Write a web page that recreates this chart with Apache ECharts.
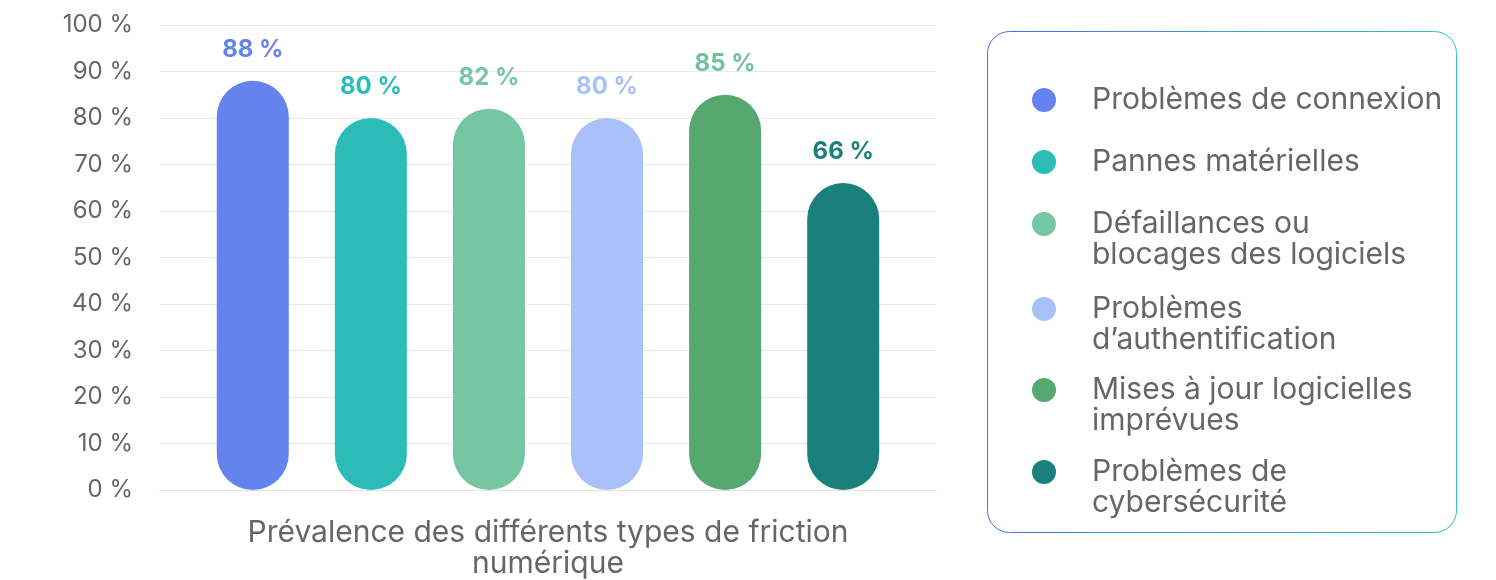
<!DOCTYPE html>
<html>
<head>
<meta charset="utf-8">
<script src="https://cdn.jsdelivr.net/npm/echarts@6/dist/echarts.min.js"></script>
<style>html,body{margin:0;padding:0;background:#fff}#c{width:1496px;height:580px}</style>
</head>
<body>
<div id="c"></div>
<script>
const categories = ['Prévalence des différents types de friction\nnumérique'];
const seriesNames = ['Problèmes de connexion', 'Pannes matérielles', 'Défaillances ou blocages des logiciels', 'Problèmes d’authentification', 'Mises à jour logicielles imprévues', 'Problèmes de cybersécurité'];
const legendLabels = ['Problèmes de connexion', 'Pannes matérielles', 'Défaillances ou\nblocages des logiciels', 'Problèmes\nd’authentification', 'Mises à jour logicielles\nimprévues', 'Problèmes de\ncybersécurité'];
const values = [88, 80, 82, 80, 85, 66];
const barColors = ['#6583EE', '#2BBCB8', '#74C7A2', '#A9C1F9', '#57A771', '#1A807B'];
const labelColors = ['#6583EE', '#2BBCB8', '#74C7A2', '#A9C1F9', '#6DC39B', '#1A807B'];
const yTicks = { min: 0, max: 100, interval: 10 };

const chart = echarts.init(document.getElementById('c'), null, { renderer: 'canvas' });
const FONT = 'Inter, sans-serif';

const series = seriesNames.map((n, i) => ({
  name: n,
  type: 'bar',
  data: [values[i]],
  barWidth: 72,
  barGap: '64%',
  itemStyle: { color: barColors[i], borderRadius: 36 },
  label: {
    show: true, position: 'top', distance: 19,
    formatter: '{c}\u00A0%',
    color: labelColors[i], fontFamily: FONT, fontWeight: 'bold', fontSize: 24
  }
}));

// legend drawn as graphic items
const legendTop = [100, 162, 224, 309, 390, 472];
const graphics = [{
  type: 'rect', shape: { x: 987.5, y: 31.5, width: 469, height: 501, r: 22 },
  style: {
    fill: 'none', lineWidth: 1,
    stroke: new echarts.graphic.LinearGradient(0, 0, 1, 0, [
      { offset: 0, color: '#4A6CF0' }, { offset: 1, color: '#2EC6BE' }
    ])
  }, z: 10
}];
legendLabels.forEach((t, i) => {
  graphics.push({ type: 'circle', shape: { cx: 1044, cy: legendTop[i], r: 12 }, style: { fill: barColors[i] }, z: 10 });
  graphics.push({
    type: 'text', x: 1092, y: legendTop[i] - 15.5, z: 10,
    style: { text: t, fill: '#666666', font: '30px Inter, sans-serif', lineHeight: 31, verticalAlign: 'top', align: 'left' }
  });
});

chart.setOption({
  animation: false,
  grid: { left: 160, right: 560, top: 25, bottom: 90, containLabel: false },
  xAxis: {
    type: 'category', data: categories,
    axisLine: { show: true, lineStyle: { color: '#E3E3E3' } },
    axisTick: { show: false },
    axisLabel: { color: '#666666', fontFamily: FONT, fontSize: 30, lineHeight: 31, margin: 27 }
  },
  yAxis: {
    type: 'value', min: yTicks.min, max: yTicks.max, interval: yTicks.interval,
    axisLine: { show: false }, axisTick: { show: false },
    splitLine: { lineStyle: { color: '#E8E8E8' } },
    axisLabel: { color: '#666666', fontFamily: FONT, fontSize: 24, margin: 27, formatter: '{value}\u00A0%' }
  },
  series: series,
  graphic: graphics
});
</script>
</body>
</html>
